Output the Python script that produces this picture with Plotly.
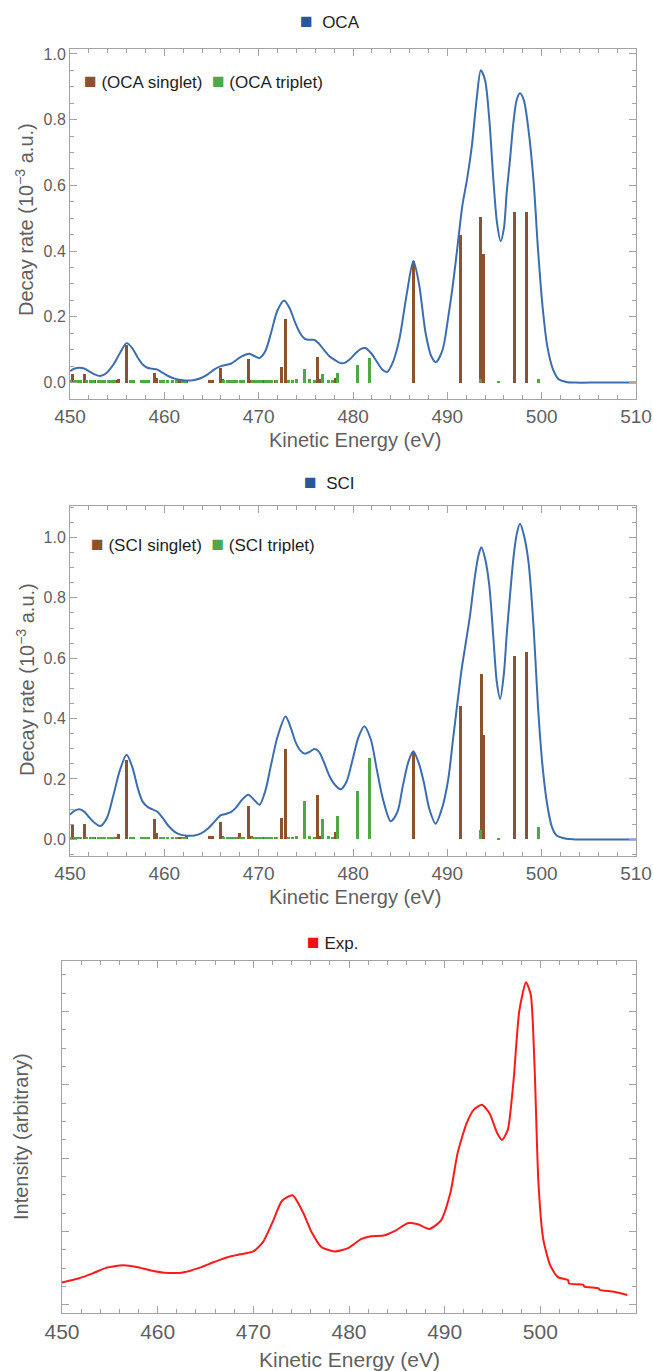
import plotly.graph_objects as go

# ---------------- data ----------------
# OCA singlet sticks (eV, decay rate 1e-3 a.u.)
oca_singlet_x = [450.3, 451.5, 452.6, 453.3, 454.1, 454.8, 455.1, 456.0, 458.1, 459.0, 459.2, 460.9, 461.6,
                 462.4, 464.75, 465.15, 466.0, 466.2, 467.5, 468.9, 469.2, 470.5, 471.8, 472.4, 472.8,
                 476.2, 476.4, 478.1, 486.4, 491.35, 493.55, 493.8, 497.1, 498.35]
oca_singlet_y = [0.025, 0.027, 0.007, 0.007, 0.007, 0.007, 0.010, 0.113, 0.007, 0.030, 0.015, 0.007, 0.007,
                 0.007, 0.008, 0.008, 0.043, 0.010, 0.007, 0.072, 0.008, 0.007, 0.007, 0.047, 0.193,
                 0.078, 0.010, 0.015, 0.370, 0.450, 0.505, 0.390, 0.520, 0.520]
# OCA triplet sticks
oca_triplet_x = [450.1, 450.45, 450.8, 451.15, 451.8, 452.15, 452.5, 453.0, 453.35, 453.7, 454.05, 454.4,
                 454.75, 456.4, 456.75, 457.6, 457.95, 458.3, 459.6, 459.95, 460.3, 460.9, 461.25, 461.9,
                 462.25, 466.3, 466.65, 467.0, 467.35, 467.7, 468.05, 468.4, 469.3, 469.65, 470.0, 470.35,
                 470.7, 471.05, 471.4, 471.9, 473.2, 473.6, 474.05, 474.85, 475.4, 475.9, 476.8, 477.4,
                 477.8, 478.4, 480.5, 481.7, 493.55, 495.45, 499.7]
oca_triplet_y = [0.007, 0.007, 0.007, 0.007, 0.007, 0.007, 0.007, 0.007, 0.007, 0.007, 0.007, 0.007,
                 0.007, 0.007, 0.007, 0.007, 0.007, 0.007, 0.007, 0.007, 0.007, 0.007, 0.007, 0.007,
                 0.007, 0.007, 0.007, 0.007, 0.007, 0.007, 0.007, 0.007, 0.007, 0.007, 0.007, 0.007,
                 0.007, 0.007, 0.007, 0.007, 0.007, 0.007, 0.010, 0.040, 0.010, 0.007, 0.025, 0.008,
                 0.007, 0.030, 0.053, 0.075, 0.010, 0.005, 0.012]
# OCA broadened spectrum
oca_curve_x = [450.0, 450.5, 451.0, 451.5, 452.0, 452.6, 453.2, 453.9, 454.6, 455.3, 456.0, 456.6, 457.2,
               457.7, 458.2, 458.7, 459.2, 459.8, 460.4, 461.1, 461.8, 462.5, 463.2, 463.9, 464.6, 465.3,
               466.0, 466.6, 467.1, 467.6, 468.2, 469.0, 469.6, 470.1, 470.7, 471.3, 472.0, 472.7, 473.3,
               473.9, 474.4, 474.9, 475.4, 475.9, 476.4, 476.9, 477.5, 478.1, 478.6, 479.1, 479.7, 480.3,
               480.8, 481.3, 481.9, 482.5, 483.1, 483.6, 484.2, 484.9, 485.7, 486.4, 487.0, 487.7, 488.3,
               488.8, 489.5, 490.1, 490.6, 491.1, 491.6, 492.1, 492.6, 493.1, 493.55, 494.0, 494.45,
               494.85, 495.25, 495.65, 496.0, 496.3, 496.65, 497.0, 497.35, 497.7, 498.1, 498.6, 499.15,
               499.6, 500.1, 500.6, 501.2, 501.8, 502.6, 503.5, 506.0, 510.0]
oca_curve_y = [0.035, 0.043, 0.045, 0.043, 0.035, 0.025, 0.020, 0.030, 0.055, 0.090, 0.120, 0.105, 0.075,
               0.055, 0.045, 0.042, 0.040, 0.030, 0.020, 0.012, 0.008, 0.006, 0.008, 0.014, 0.025, 0.040,
               0.050, 0.054, 0.058, 0.068, 0.080, 0.088, 0.080, 0.075, 0.095, 0.150, 0.220, 0.250, 0.225,
               0.180, 0.150, 0.133, 0.130, 0.130, 0.118, 0.100, 0.080, 0.068, 0.060, 0.060, 0.072, 0.090,
               0.102, 0.105, 0.090, 0.065, 0.040, 0.032, 0.060, 0.130, 0.270, 0.370, 0.300, 0.150, 0.080,
               0.062, 0.100, 0.200, 0.300, 0.420, 0.540, 0.620, 0.720, 0.860, 0.950, 0.920, 0.800,
               0.630, 0.490, 0.430, 0.470, 0.580, 0.680, 0.790, 0.860, 0.880, 0.860, 0.770, 0.610,
               0.410, 0.230, 0.110, 0.040, 0.010, 0.002, 0.0, 0.0, 0.0]

# SCI singlet sticks
sci_singlet_x = [450.3, 451.5, 452.6, 453.3, 454.1, 454.8, 455.1, 456.0, 458.1, 459.0, 459.2, 460.9, 461.6,
                 462.4, 464.75, 465.15, 466.0, 466.2, 467.5, 468.0, 468.9, 469.2, 470.5, 471.8, 472.4,
                 472.8, 476.2, 476.4, 478.1, 486.4, 491.35, 493.6, 493.8, 497.1, 498.35]
sci_singlet_y = [0.049, 0.052, 0.008, 0.008, 0.008, 0.008, 0.017, 0.264, 0.008, 0.069, 0.020, 0.008, 0.008,
                 0.010, 0.012, 0.012, 0.058, 0.012, 0.008, 0.020, 0.110, 0.010, 0.008, 0.008, 0.072,
                 0.300, 0.146, 0.012, 0.024, 0.290, 0.442, 0.549, 0.345, 0.608, 0.622]
# SCI triplet sticks
sci_triplet_x = [450.1, 450.45, 450.8, 451.15, 451.8, 452.15, 452.5, 453.0, 453.35, 453.7, 454.05, 454.4,
                 454.75, 456.4, 456.75, 457.6, 457.95, 458.3, 459.6, 459.95, 460.3, 460.9, 461.25, 461.9,
                 462.25, 466.3, 466.65, 467.0, 467.35, 467.7, 468.05, 468.4, 469.3, 469.65, 470.0, 470.35,
                 470.7, 471.05, 471.4, 471.9, 473.2, 473.6, 474.05, 474.85, 475.4, 475.9, 476.8, 477.4,
                 477.8, 478.4, 480.5, 481.7, 493.55, 495.45, 499.7]
sci_triplet_y = [0.008, 0.008, 0.008, 0.008, 0.008, 0.008, 0.008, 0.008, 0.008, 0.008, 0.008, 0.008,
                 0.008, 0.008, 0.008, 0.008, 0.008, 0.008, 0.008, 0.008, 0.008, 0.008, 0.008, 0.008,
                 0.008, 0.008, 0.008, 0.008, 0.008, 0.008, 0.008, 0.008, 0.008, 0.008, 0.008, 0.008,
                 0.008, 0.008, 0.008, 0.008, 0.008, 0.008, 0.012, 0.128, 0.012, 0.008, 0.069, 0.010,
                 0.008, 0.076, 0.161, 0.270, 0.030, 0.006, 0.040]
# SCI broadened spectrum
sci_curve_x = [450.0, 450.5, 451.0, 451.5, 452.0, 452.6, 453.2, 453.9, 454.6, 455.3, 456.0, 456.6, 457.2,
               457.7, 458.25, 458.7, 459.2, 459.8, 460.4, 461.1, 461.8, 462.5, 463.2, 463.9, 464.6, 465.3,
               466.0, 466.6, 467.1, 467.6, 468.2, 468.9, 469.6, 470.1, 470.7, 471.3, 472.0, 472.85, 473.4,
               473.9, 474.4, 474.9, 475.4, 475.9, 476.4, 476.9, 477.5, 478.1, 478.7, 479.3, 479.9, 480.6,
               481.2, 481.9, 482.5, 483.2, 484.0, 484.7, 485.3, 485.9, 486.4, 487.0, 487.5, 488.1, 488.75,
               489.5, 490.1, 490.6, 491.1, 491.5, 491.9, 492.4, 492.9, 493.3, 493.6, 494.0, 494.45, 494.85,
               495.25, 495.6, 496.0, 496.3, 496.65, 497.0, 497.35, 497.7, 498.1, 498.6, 499.15, 499.6,
               500.1, 500.6, 501.1, 501.6, 502.6, 503.5, 506.0, 510.0]
sci_curve_y = [0.082, 0.095, 0.100, 0.092, 0.074, 0.055, 0.044, 0.070, 0.146, 0.230, 0.280, 0.240, 0.168,
               0.125, 0.107, 0.100, 0.093, 0.072, 0.046, 0.025, 0.015, 0.012, 0.013, 0.020, 0.035, 0.058,
               0.080, 0.085, 0.091, 0.105, 0.130, 0.148, 0.128, 0.115, 0.160, 0.245, 0.340, 0.407, 0.370,
               0.323, 0.295, 0.284, 0.290, 0.299, 0.290, 0.257, 0.210, 0.180, 0.166, 0.190, 0.257, 0.340,
               0.375, 0.330, 0.235, 0.130, 0.060, 0.090, 0.180, 0.260, 0.292, 0.250, 0.190, 0.100, 0.052,
               0.110, 0.200, 0.330, 0.460, 0.560, 0.640, 0.740, 0.865, 0.940, 0.967, 0.930, 0.840, 0.680,
               0.520, 0.465, 0.550, 0.680, 0.810, 0.930, 1.010, 1.045, 1.010, 0.920, 0.700, 0.445,
               0.240, 0.113, 0.040, 0.013, 0.002, 0.0, 0.0, 0.0]

# Experimental spectrum (arbitrary intensity)
exp_x = [450.0, 451.7, 453.2, 454.6, 456.4, 457.8, 459.2, 460.7, 462.5, 464.1, 465.9, 467.3, 468.6, 470.0,
         471.0, 472.0, 473.0, 474.1, 475.2, 476.1, 477.1, 478.5, 479.9, 481.3, 482.3, 483.6, 484.8, 486.2,
         487.2, 488.4, 489.6, 490.6, 491.35, 492.3, 493.1, 493.9, 494.7, 495.5, 496.0, 496.6, 497.2, 497.8,
         498.5, 499.0, 499.4, 499.8, 500.3, 501.0, 501.8, 502.9, 503.0, 504.5, 504.6, 506.1, 506.2, 507.7,
         509.1]
exp_y = [0.306, 0.360, 0.430, 0.505, 0.540, 0.518, 0.473, 0.440, 0.440, 0.495, 0.585, 0.650, 0.690, 0.730,
         0.856, 1.126, 1.420, 1.495, 1.260, 0.990, 0.790, 0.730, 0.775, 0.900, 0.937, 0.946, 1.010, 1.117,
         1.100, 1.036, 1.150, 1.530, 2.070, 2.480, 2.670, 2.730, 2.610, 2.340, 2.250, 2.390, 3.060, 4.010,
         4.400, 4.230, 3.240, 1.670, 0.900, 0.550, 0.383, 0.338, 0.293, 0.275, 0.250, 0.225, 0.205, 0.180,
         0.135]

energy_ticks = [450, 460, 470, 480, 490, 500, 510]
decay_ticks = [0.0, 0.2, 0.4, 0.6, 0.8, 1.0]
exp_ticks = [0, 1, 2, 3, 4]

# ---------------- style ----------------
BROWN = "#8B5230"
GREEN = "#4EA846"
BLUE = "#3C6DAD"
LEGBLUE = "#28589A"
RED = "#FF1A1A"
FRAME = "#A3A3A3"
TXT = "#5F5F5F"
DARK = "#1E1E1E"
FONT = "Liberation Sans, Arial, sans-serif"
W, H = 653, 1371

fig = go.Figure()


def sticks(x, y, color, xa, ya):
    fig.add_trace(go.Bar(x=x, y=y, width=0.32, marker=dict(color=color, line=dict(width=0)),
                         showlegend=False, xaxis=xa, yaxis=ya, hoverinfo="x+y"))


# top: OCA
sticks(oca_singlet_x, oca_singlet_y, BROWN, "x", "y")
sticks(oca_triplet_x, oca_triplet_y, GREEN, "x", "y")
fig.add_trace(go.Scatter(x=oca_curve_x, y=oca_curve_y, mode="lines",
                         line=dict(color=BLUE, width=2, shape="spline", smoothing=0.8),
                         showlegend=False, xaxis="x", yaxis="y"))
# middle: SCI
sticks(sci_singlet_x, sci_singlet_y, BROWN, "x2", "y2")
sticks(sci_triplet_x, sci_triplet_y, GREEN, "x2", "y2")
fig.add_trace(go.Scatter(x=sci_curve_x, y=sci_curve_y, mode="lines",
                         line=dict(color=BLUE, width=2, shape="spline", smoothing=0.8),
                         showlegend=False, xaxis="x2", yaxis="y2"))
# bottom: Exp.
fig.add_trace(go.Scatter(x=exp_x, y=exp_y, mode="lines",
                         line=dict(color=RED, width=2, shape="spline", smoothing=0.6),
                         showlegend=False, xaxis="x3", yaxis="y3"))


def xaxis_cfg(dom, anchor, tickfont):
    return dict(domain=dom, anchor=anchor, range=[450, 510], tickvals=energy_ticks,
                ticks="inside", ticklen=7, tickcolor=FRAME, tickwidth=1, automargin=False,
                minor=dict(dtick=2, ticks="inside", ticklen=4, tickcolor=FRAME, tickwidth=1),
                showline=True, linecolor=FRAME, linewidth=1, mirror="allticks",
                showgrid=False, zeroline=False,
                tickfont=dict(size=tickfont, color=TXT, family=FONT))


def yaxis_cfg(dom, anchor, rng, tickvals, minor_dtick, labels=True):
    return dict(domain=dom, anchor=anchor, range=rng, tickvals=tickvals,
                tickformat=".1f", showticklabels=labels, automargin=False,
                ticks="inside", ticklen=7, tickcolor=FRAME, tickwidth=1,
                minor=dict(dtick=minor_dtick, tick0=0, ticks="inside", ticklen=4, tickcolor=FRAME, tickwidth=1),
                showline=True, linecolor=FRAME, linewidth=1, mirror="allticks",
                showgrid=False, zeroline=False,
                tickfont=dict(size=16, color=TXT, family=FONT))


def px_dom_x(a, b):
    return [a / W, b / W]


def px_dom_y(top, bottom):
    return [1 - bottom / H, 1 - top / H]


def label(text, x_px, y_px, size, color=TXT, xanchor="center", angle=0):
    fig.add_annotation(text=text, xref="paper", yref="paper", x=x_px / W, y=1 - y_px / H,
                       xanchor=xanchor, yanchor="middle", showarrow=False, textangle=angle,
                       font=dict(size=size, color=color, family=FONT))


def sq(color):
    return "<span style='color:%s;font-size:21px'>■</span>" % color


ytitle = "Decay rate (10<sup>−3</sup> a.u.)"

# panel headings (legends of the spectra)
label(sq(LEGBLUE) + "  OCA", 330, 21, 17, DARK)
label(sq(LEGBLUE) + "  SCI", 329, 482, 17, DARK)
label(sq("#F01010") + " Exp.", 332, 941, 17, DARK)
# stick legends inside panels
label(sq(BROWN) + " (OCA singlet)  " + sq(GREEN) + " (OCA triplet)", 82, 80, 17, DARK, xanchor="left")
label(sq(BROWN) + " (SCI singlet)  " + sq(GREEN) + " (SCI triplet)", 89, 543, 17, DARK, xanchor="left")
# axis titles
label("Kinetic Energy (eV)", 355, 440, 20)
label("Kinetic Energy (eV)", 355, 897, 20)
label("Kinetic Energy (eV)", 349, 1359, 21)
label(ytitle, 25, 220, 20, angle=-90)
label(ytitle, 25, 680, 20, angle=-90)
label("Intensity (arbitrary)", 21, 1137, 20, angle=-90)

fig.update_layout(
    width=W, height=H, margin=dict(l=0, r=0, t=0, b=0, autoexpand=False),
    paper_bgcolor="white", plot_bgcolor="white", barmode="overlay", bargap=0,
    showlegend=False,
    font=dict(family=FONT, color=TXT),
    xaxis=xaxis_cfg(px_dom_x(70, 636), "y", 19),
    yaxis=yaxis_cfg(px_dom_y(49, 399), "x", [-0.05, 1.015], decay_ticks, 0.05),
    xaxis2=xaxis_cfg(px_dom_x(70, 636), "y2", 19),
    yaxis2=yaxis_cfg(px_dom_y(506, 856), "x2", [-0.055, 1.104], decay_ticks, 0.05),
    xaxis3=xaxis_cfg(px_dom_x(62, 636), "y3", 21),
    yaxis3=yaxis_cfg(px_dom_y(961, 1313), "x3", [-0.11, 4.69], exp_ticks, 0.25, labels=False),
)

fig.write_html("out.html", config={"displayModeBar": False},
               post_script="document.body.style.margin='0';document.body.style.overflow='hidden';")
